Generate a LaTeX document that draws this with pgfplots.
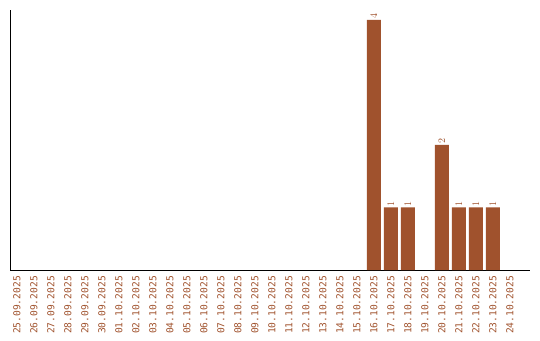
\documentclass[border=0pt]{standalone}
\usepackage{pgfplots}
\pgfplotsset{compat=1.18}
\usepackage{fontspec}
\setmainfont{DejaVu Sans Mono}
\setmonofont{DejaVu Sans Mono}
\definecolor{sienna}{HTML}{A0522D}
\begin{document}
\begin{tikzpicture}
\useasboundingbox (0pt,0pt) rectangle (540pt,340pt);
\begin{axis}[
  at={(10.5pt,70pt)}, anchor=south west,
  scale only axis, width=519.5pt, height=260pt,
  xmin=-0.38, xmax=30.18, ymin=0, ymax=4.16,
  axis x line=bottom, axis y line=left,
  axis line style={-, black, line width=0.8pt},
  ytick=\empty,
  xtick={0,...,29},
  xticklabels={25.09.2025,26.09.2025,27.09.2025,28.09.2025,29.09.2025,30.09.2025,01.10.2025,02.10.2025,03.10.2025,04.10.2025,05.10.2025,06.10.2025,07.10.2025,08.10.2025,09.10.2025,10.10.2025,11.10.2025,12.10.2025,13.10.2025,14.10.2025,15.10.2025,16.10.2025,17.10.2025,18.10.2025,19.10.2025,20.10.2025,21.10.2025,22.10.2025,23.10.2025,24.10.2025},
  x tick label style={rotate=90, anchor=east, font=\fontsize{9.6}{10}\selectfont, text=sienna, inner sep=0pt},
  major tick length=0pt,
  xticklabel shift=6pt,
  ybar, bar width=14pt,
  nodes near coords,
  nodes near coords style={rotate=90, anchor=west, font=\fontsize{9.6}{10}\selectfont, text=sienna, inner sep=1pt},
  clip=false,
]
\addplot[fill=sienna, draw=none] coordinates {(21,4) (22,1) (23,1) (25,2) (26,1) (27,1) (28,1)};
\end{axis}
\end{tikzpicture}
\end{document}
